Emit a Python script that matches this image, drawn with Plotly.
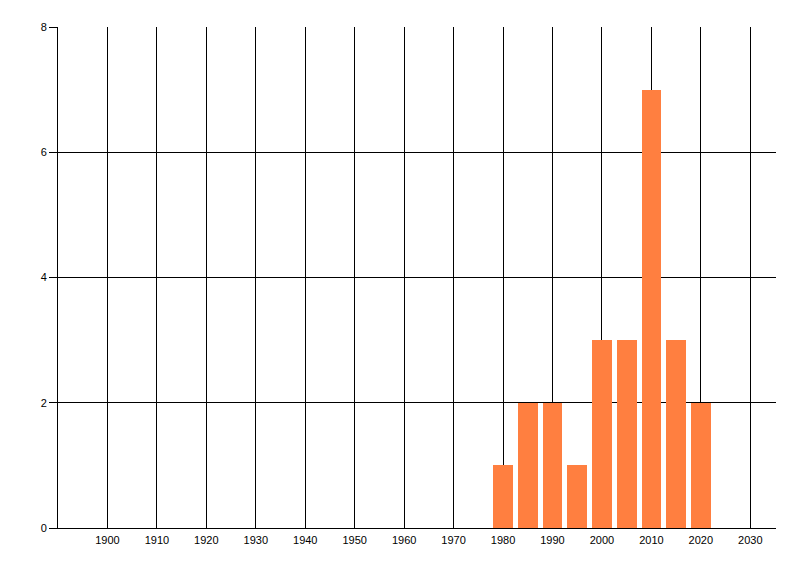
import plotly.graph_objects as go

# bar data
years = [1980, 1985, 1990, 1995, 2000, 2005, 2010, 2015, 2020]
counts = [1, 2, 2, 1, 3, 3, 7, 3, 2]

x_ticks = list(range(1900, 2031, 10))
y_ticks = [0, 2, 4, 6, 8]

fig = go.Figure()
fig.add_trace(go.Bar(
    x=years,
    y=counts,
    width=4,
    marker=dict(color="#FF7F40", line=dict(width=0)),
))

axis_font = dict(family="Liberation Sans, DejaVu Sans, sans-serif", size=11, color="#000000")

# page body adds an 8px offset, so the figure is a bit smaller than the window
fig.update_layout(
    width=792,
    height=568,
    margin=dict(l=49.5, r=24, t=18.5, b=48),
    paper_bgcolor="white",
    plot_bgcolor="white",
    showlegend=False,
    bargap=0,
)
fig.update_xaxes(
    range=[1890, 2035.2],
    tickvals=x_ticks,
    ticktext=[str(v) for v in x_ticks],
    showgrid=True,
    gridcolor="black",
    gridwidth=1,
    showline=True,
    linecolor="black",
    linewidth=1,
    zeroline=False,
    ticks="outside",
    ticklen=2,
    tickcolor="rgba(0,0,0,0)",
    tickfont=axis_font,
)
fig.update_yaxes(
    range=[0, 8],
    tickvals=y_ticks,
    showgrid=True,
    gridcolor="black",
    gridwidth=1,
    showline=True,
    linecolor="black",
    linewidth=1,
    zeroline=False,
    ticks="outside",
    ticklen=8,
    tickcolor="black",
    tickfont=axis_font,
)

fig.write_html("out.html")
